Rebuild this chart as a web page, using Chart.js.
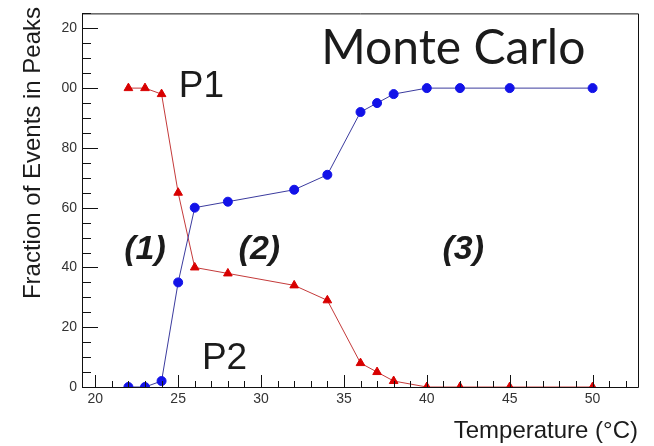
<!DOCTYPE html>
<html>
<head>
<meta charset="utf-8">
<script src="https://cdn.jsdelivr.net/npm/chart.js@4.4.1/dist/chart.umd.min.js"></script>
<style>
  html, body { margin: 0; background: #fff; }
  #wrap { width: 654px; height: 446px; }
</style>
</head>
<body>
<div id="wrap"><canvas id="chart"></canvas></div>
<script>
const temperatures = [22, 23, 24, 25, 26, 28, 32, 34, 36, 37, 38, 40, 42, 45, 50];
const peak1 = [100, 100, 98, 65, 40, 38, 34, 29, 8, 5, 2, 0, 0, 0, 0];
const peak2 = [0, 0, 2, 35, 60, 62, 66, 71, 92, 95, 98, 100, 100, 100, 100];
const xTicks = [20, 25, 30, 35, 40, 45, 50];
const yTicks = [0, 20, 40, 60, 80, 100, 120];
const yTickLabels = ['0', '20', '40', '60', '80', '00', '20'];
const regionLabels = ['(1)', '(2)', '(3)'];
const regionX = [23.0, 29.9, 42.2];

const ink = '#1b1b1b';
const toPoints = values => temperatures.map((t, i) => ({ x: t, y: values[i] }));

// ROOT-style frame: inward ticks, closed box, free text
const frame = {
  id: 'frame',
  afterDatasetsDraw(chart) {
    const { ctx, chartArea: a, scales: { x, y } } = chart;
    ctx.save();
    ctx.strokeStyle = '#111';
    ctx.lineWidth = 1;
    ctx.beginPath();
    ctx.rect(a.left + 0.5, a.top + 0.5, a.right - a.left - 1, a.bottom - a.top);
    ctx.stroke();

    ctx.beginPath();
    for (let v = 20; v <= 52; v++) {
      const px = Math.round(x.getPixelForValue(v)) + 0.5;
      const len = v % 5 === 0 ? 12 : 6;
      ctx.moveTo(px, a.bottom);
      ctx.lineTo(px, a.bottom - len);
    }
    for (let v = 0; v <= 125; v += 5) {
      const py = Math.round(y.getPixelForValue(v)) + 0.5;
      const len = v % 20 === 0 ? 16 : 9;
      ctx.moveTo(a.left, py);
      ctx.lineTo(a.left + len, py);
    }
    ctx.stroke();

    ctx.fillStyle = ink;
    ctx.textBaseline = 'middle';
    ctx.textAlign = 'center';
    ctx.font = '48px Lato';
    ctx.fillText('Monte Carlo', x.getPixelForValue(41.6), y.getPixelForValue(113.4));
    ctx.font = '37px "Liberation Sans"';
    ctx.fillText('P1', x.getPixelForValue(26.4), y.getPixelForValue(100.5));
    ctx.fillText('P2', x.getPixelForValue(27.8), y.getPixelForValue(9.3));
    ctx.font = 'italic bold 34px "Liberation Sans"';
    regionLabels.forEach((label, i) => {
      ctx.fillText(label, x.getPixelForValue(regionX[i]), y.getPixelForValue(45.8));
    });

    ctx.font = '24px "Liberation Sans"';
    ctx.textAlign = 'right';
    ctx.fillText('Temperature (°C)', 638, 431);
    ctx.translate(33, 153);
    ctx.rotate(-Math.PI / 2);
    ctx.textAlign = 'center';
    ctx.fillText('Fraction of Events in Peaks', 0, 0);
    ctx.restore();
  }
};

Chart.defaults.font.family = '"Liberation Sans", sans-serif';
Chart.defaults.color = '#333';

new Chart(document.getElementById('chart'), {
  type: 'scatter',
  data: {
    datasets: [
      {
        label: 'P2',
        data: toPoints(peak2),
        showLine: true,
        borderColor: '#3b3b9e',
        borderWidth: 1,
        backgroundColor: '#1212e8',
        pointBorderColor: '#1212e8',
        pointStyle: 'circle',
        pointRadius: 4.5
      },
      {
        label: 'P1',
        data: toPoints(peak1),
        showLine: true,
        borderColor: '#c43a3a',
        borderWidth: 1,
        backgroundColor: '#d80000',
        pointBorderColor: '#d80000',
        pointStyle: 'triangle',
        pointRadius: 5
      }
    ]
  },
  options: {
    responsive: true,
    maintainAspectRatio: false,
    animation: false,
    layout: { padding: { left: 0, right: 15, top: 10, bottom: 0 } },
    plugins: { legend: { display: false }, tooltip: { enabled: false } },
    scales: {
      x: {
        type: 'linear',
        min: 19.2,
        max: 52.8,
        grid: { display: false, drawTicks: false },
        border: { display: false },
        afterFit: scale => { scale.height = 59; },
        afterBuildTicks: scale => { scale.ticks = xTicks.map(value => ({ value })); },
        ticks: { padding: 4, font: { size: 14 }, maxRotation: 0 }
      },
      y: {
        type: 'linear',
        min: 0,
        max: 125,
        grid: { display: false, drawTicks: false },
        border: { display: false },
        afterFit: scale => { scale.width = 82; },
        afterBuildTicks: scale => { scale.ticks = yTicks.map(value => ({ value })); },
        ticks: {
          padding: 5,
          font: { size: 14 },
          callback: value => yTickLabels[yTicks.indexOf(value)]
        }
      }
    }
  },
  plugins: [frame]
});
</script>
</body>
</html>
